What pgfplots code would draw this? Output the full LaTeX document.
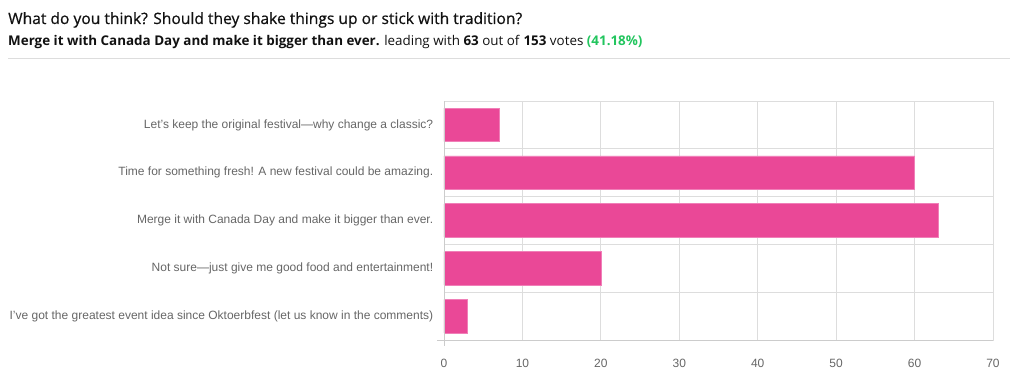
\documentclass[border=0pt]{standalone}
\usepackage{fontspec}
\setmainfont{Liberation Sans}
\newfontfamily\titlefont{Open Sans}
\newfontfamily\headfont[FakeBold=0.6]{Open Sans}
\usepackage{pgfplots}
\pgfplotsset{compat=1.18}
\definecolor{barpink}{HTML}{EA4897}
\definecolor{baredge}{HTML}{F07FB8}
\definecolor{gridgray}{HTML}{DDDDDD}
\definecolor{axisgray}{HTML}{CCCCCC}
\definecolor{labelgray}{HTML}{666666}
\definecolor{titlecol}{HTML}{111111}
\definecolor{votegreen}{HTML}{22C55E}
\begin{document}
\begin{tikzpicture}[x=1pt,y=1pt]
\path[use as bounding box] (0,0) rectangle (1018,389);
\node[anchor=base west,inner sep=0pt,text=titlecol,font=\headfont\fontsize{15.6}{18}\selectfont] at (8,389-24) {What do you think? Should they shake things up or stick with tradition?};
\node[anchor=base west,inner sep=0pt,text=titlecol,font=\titlefont\fontsize{13.4}{15}\selectfont] at (8,389-46) {\textbf{Merge it with Canada Day and make it bigger than ever.} leading with \textbf{63} out of \textbf{153} votes \textcolor{votegreen}{\textbf{(41.18\%)}}};
\draw[gridgray,line width=0.8pt] (8,389-58.5) -- (1010,389-58.5);
\begin{axis}[
  at={(444pt,49pt)}, anchor=south west,
  width=549pt, height=239pt, scale only axis,
  xbar, bar width=0.7,
  xmin=0, xmax=70, ymin=-0.5, ymax=4.5, y dir=reverse,
  xtick={0,10,...,70},
  ytick={0,1,2,3,4},
  yticklabels={Let's keep the original festival---why change a classic?,
    Time for something fresh! A new festival could be amazing.,
    Merge it with Canada Day and make it bigger than ever.,
    Not sure---just give me good food and entertainment!,
    I've got the greatest event idea since Oktoerbfest (let us know in the comments)},
  ytick style={draw=none},
  xtick style={draw=none},
  extra y ticks={-0.5,0.5,1.5,2.5,3.5,4.5},
  extra y tick labels={},
  extra y tick style={grid=major, tick align=outside, major tick length=7pt, tick style={draw=axisgray,line width=0.8pt}},
  xmajorgrids,
  grid style={gridgray,line width=0.8pt},
  axis line style={draw=gridgray,line width=0.8pt},
  tick label style={font=\fontsize{12}{14}\selectfont, text=labelgray},
  yticklabel style={xshift=-3pt},
  xticklabel style={yshift=-16pt},
  /pgf/number format/assume math mode=true,
  clip=false,
]
\addplot[fill=barpink, draw=baredge, line width=0.6pt] coordinates {(7,0) (60,1) (63,2) (20,3) (3,4)};
\end{axis}
\draw[axisgray,line width=0.9pt] (437,49) -- (993,49);
\draw[axisgray,line width=0.9pt] (444,49) -- (444,288);
\draw[axisgray,line width=0.9pt] (444,49) -- (444,43);
\end{tikzpicture}
\end{document}
